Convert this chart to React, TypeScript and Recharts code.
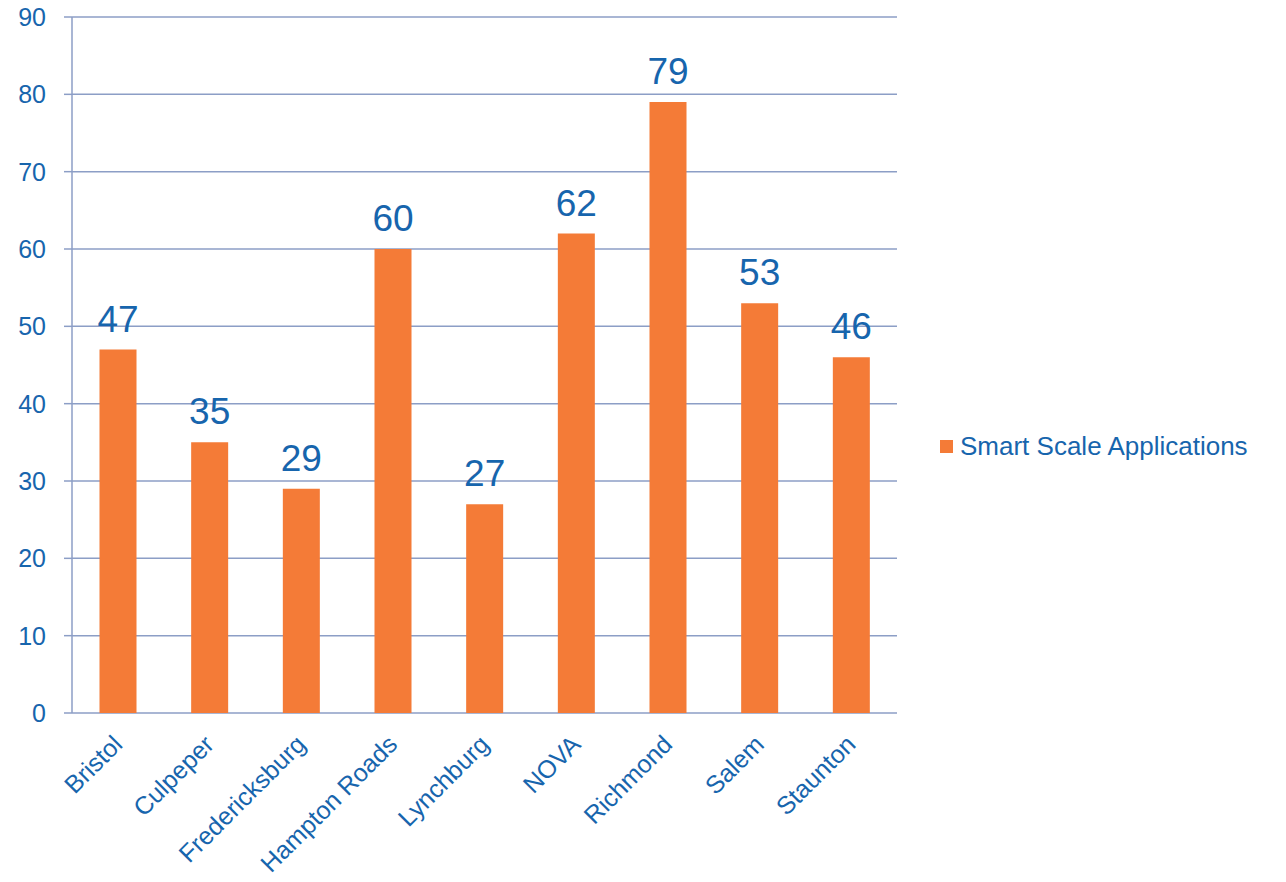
import React from "react";
import { Bar, BarChart, CartesianGrid, LabelList, Legend, XAxis, YAxis } from "recharts";

const regions = ["Bristol", "Culpeper", "Fredericksburg", "Hampton Roads", "Lynchburg", "NOVA", "Richmond", "Salem", "Staunton"];
const applications = [47, 35, 29, 60, 27, 62, 79, 53, 46];
const yTicks = [0, 10, 20, 30, 40, 50, 60, 70, 80, 90];
const edgeTicks = [0, 1, 2, 3, 4, 5, 6, 7, 8, 9];

const data = regions.map((name, i) => ({ name, value: applications[i] }));

const BLUE = "#1765ad";
const ORANGE = "#f47b37";
const GRID = "#8c9ec6";
const FONT = "'Liberation Sans', Arial, sans-serif";

function RegionTick(props: any) {
    const { x, payload } = props;
    return (
        <g transform={`translate(${x + 6}, ${713 + 33}) rotate(-45)`}>
            <text textAnchor="end" fill={BLUE} fontSize={25} fontFamily={FONT}>
                {payload.value}
            </text>
        </g>
    );
}

function LegendBox() {
    return (
        <div style={{ display: "flex", alignItems: "center", fontFamily: FONT, fontSize: 26, color: BLUE }}>
            <span style={{ width: 13, height: 13, background: ORANGE, marginRight: 7, display: "inline-block" }} />
            Smart Scale Applications
        </div>
    );
}

export default function App() {
    return (
        <div style={{ margin: -8, background: "#fff", width: 1286, height: 882 }}>
            <BarChart
                width={1286}
                height={882}
                data={data}
                margin={{ top: 17, right: 49, left: 0, bottom: 0 }}
                barCategoryGap="30%"
            >
                <CartesianGrid vertical={false} stroke={GRID} strokeWidth={1.5} />
                <XAxis
                    xAxisId="edges"
                    type="number"
                    domain={[0, 9]}
                    ticks={edgeTicks}
                    tick={false}
                    height={0}
                    stroke={GRID}
                    strokeWidth={1.5}
                    tickSize={8}
                />
                <XAxis
                    dataKey="name"
                    interval={0}
                    axisLine={false}
                    tickLine={false}
                    height={169}
                    tick={<RegionTick />}
                />
                <YAxis
                    domain={[0, 90]}
                    ticks={yTicks}
                    width={72}
                    stroke={GRID}
                    strokeWidth={1.5}
                    tickSize={8}
                    tickMargin={18}
                    tick={{ fill: BLUE, fontSize: 25, fontFamily: FONT }}
                />
                <Legend
                    layout="vertical"
                    verticalAlign="middle"
                    align="right"
                    content={<LegendBox />}
                    wrapperStyle={{ width: 340, left: 940, top: 431 }}
                />
                <Bar dataKey="value" fill={ORANGE} isAnimationActive={false}>
                    <LabelList
                        dataKey="value"
                        position="top"
                        offset={18}
                        fill={BLUE}
                        fontSize={37}
                        fontFamily={FONT}
                    />
                </Bar>
            </BarChart>
        </div>
    );
}
